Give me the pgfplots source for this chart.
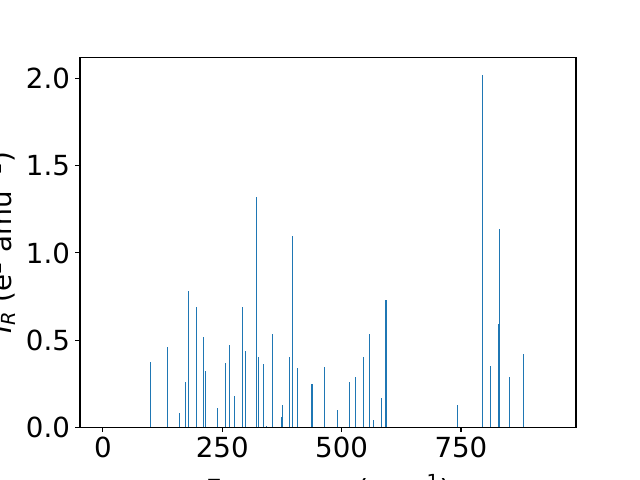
\documentclass[border=0pt]{standalone}
\usepackage{fontspec}
\setmainfont{DejaVu Sans}
\usepackage{pgfplots}
\pgfplotsset{compat=1.18}
\definecolor{c1}{HTML}{1F77B4}
\begin{document}
\begin{tikzpicture}
\path[use as bounding box, clip] (0,0) rectangle (6.4in,4.8in);
\begin{axis}[
  at={(0.8in,0.528in)}, anchor=south west,
  scale only axis, width=4.96in, height=3.696in,
  xmin=-48, xmax=991, ymin=0, ymax=2.121,
  xtick={0,250,500,750}, ytick={0,0.5,1,1.5,2},
  yticklabel style={/pgf/number format/fixed, /pgf/number format/fixed zerofill, /pgf/number format/precision=1},
  /pgf/number format/assume math mode=true,
  tick align=outside, tick pos=left,
  major tick length=3.5bp,
  every tick/.style={black, line width=0.8bp},
  axis line style={line width=0.8bp},
  tick label style={font=\fontsize{20}{24}\selectfont},
  xticklabel style={inner sep=0pt, yshift=-3.5bp},
  yticklabel style={inner sep=0pt, xshift=-3.5bp},
  label style={font=\fontsize{20}{24}\selectfont, inner sep=0pt},
  xlabel={Frequency (cm\textsuperscript{−1})},
  ylabel={{\itshape I}\textsubscript{\itshape R} (e\textsuperscript{2} amu\textsuperscript{−1})},
  xlabel style={at={(axis description cs:0.5,0)}, anchor=north, yshift=-0.47in},
  ylabel style={at={(axis description cs:0,0.5)}, anchor=south, yshift=0.64in},
]
\addplot[ycomb, c1, line width=0.8pt, mark=none] coordinates {
(99,0.374) (135,0.46) (160,0.08) (173,0.26) (179,0.78) (196,0.69)
(211,0.52) (214,0.32) (240,0.11) (257,0.37) (265,0.47) (276,0.18)
(293,0.69) (299,0.44) (322,1.32) (326,0.40) (337,0.36) (343,0.005)
(356,0.535) (375,0.06) (377,0.13) (391,0.40) (398,1.10) (408,0.34)
(438,0.25) (465,0.345) (492,0.10) (516,0.26) (529,0.29) (545,0.40)
(559,0.535) (566,0.04) (583,0.17) (593,0.73) (743,0.13) (796,2.02)
(812,0.35) (828,0.59) (830,1.14) (851,0.29) (881,0.42)
};
\end{axis}
\end{tikzpicture}
\end{document}
